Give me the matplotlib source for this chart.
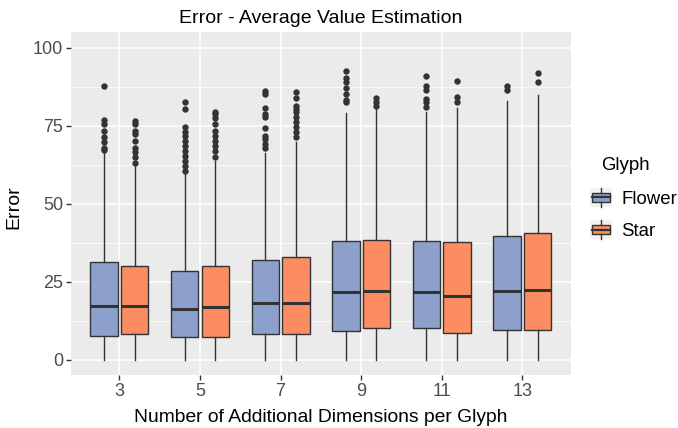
import matplotlib.pyplot as plt
from matplotlib.patches import Patch, Rectangle
from matplotlib.lines import Line2D
from matplotlib.legend_handler import HandlerBase
import numpy as np

plt.rcParams['font.family'] = ['Liberation Sans', 'DejaVu Sans']

dims = ['3', '5', '7', '9', '11', '13']
glyphs = ['Flower', 'Star']
colors = ['#8DA0CB', '#FC8D62']

# box stats
flower_q1 = [7.7, 7.4, 8.3, 9.3, 10.2, 9.5]
flower_med = [17.1, 16.4, 18.1, 21.6, 21.8, 22.1]
flower_q3 = [31.2, 28.5, 32.0, 38.0, 38.0, 39.6]
flower_lo = [0, 0, 0, 0, 0, 0]
flower_hi = [66.8, 59.7, 66.3, 79.1, 79.4, 83.0]
flower_out = [
    [87.8, 76.8, 75.7, 73.4, 71.3, 69.7, 68.0, 67.2],
    [82.8, 80.4, 74.5, 72.9, 71.8, 70.2, 68.6, 67.0, 65.4, 63.8, 62.2, 60.6],
    [86.2, 85.2, 80.7, 78.7, 77.7, 74.3, 71.8, 70.7, 69.1, 68.0],
    [92.5, 90.2, 89.2, 87.1, 85.2, 83.3, 82.5],
    [90.9, 87.8, 86.4, 83.5, 82.5, 80.9],
    [87.8, 86.6],
]

star_q1 = [8.3, 7.4, 8.1, 10.3, 8.6, 9.5]
star_med = [17.1, 16.8, 18.1, 21.9, 20.5, 22.5]
star_q3 = [30.0, 29.9, 33.1, 38.5, 37.9, 40.7]
star_lo = [0, 0, 0, 0, 0, 0]
star_hi = [62.2, 63.6, 69.9, 80.6, 80.7, 84.9]
star_out = [
    [76.6, 75.5, 73.4, 72.3, 70.2, 68.0, 66.5, 64.9, 63.2],
    [79.6, 78.7, 77.4, 75.7, 73.4, 71.8, 70.2, 68.6, 67.0, 65.1],
    [85.9, 83.8, 81.4, 80.4, 79.3, 77.7, 76.1, 74.5, 72.9, 71.5],
    [83.8, 82.8, 81.4],
    [89.3, 84.1, 82.8],
    [91.8, 89.1],
]

data = {
    'Flower': (flower_q1, flower_med, flower_q3, flower_lo, flower_hi, flower_out),
    'Star': (star_q1, star_med, star_q3, star_lo, star_hi, star_out),
}

fig = plt.figure(figsize=(6.78, 4.28), dpi=100)
ax = fig.add_axes([0.1047, 0.1231, 0.7371, 0.8014])
ax.set_facecolor('#EBEBEB')
for s in ax.spines.values():
    s.set_visible(False)

x = np.arange(len(dims))
offsets = [-0.19, 0.19]
for g, name in enumerate(glyphs):
    q1, med, q3, lo, hi, out = data[name]
    stats = []
    for i in range(len(dims)):
        stats.append(dict(q1=q1[i], med=med[i], q3=q3[i], whislo=lo[i],
                          whishi=hi[i], fliers=out[i]))
    ax.bxp(stats, positions=x + offsets[g], widths=0.34, patch_artist=True,
           showcaps=False, manage_ticks=False,
           boxprops=dict(facecolor=colors[g], edgecolor='#333333', lw=1.0),
           medianprops=dict(color='#333333', lw=2.2, solid_capstyle='butt'),
           whiskerprops=dict(color='#333333', lw=1.0),
           flierprops=dict(marker='o', markerfacecolor='#333333',
                           markeredgecolor='none', markersize=4.6))

ax.set_xlim(-0.6, 5.6)
ax.set_ylim(-5, 105)
ax.set_xticks(x)
ax.set_xticklabels(dims)
ax.set_yticks([0, 25, 50, 75, 100])
ax.set_yticks([12.5, 37.5, 62.5, 87.5], minor=True)
ax.set_axisbelow(True)
ax.grid(which='major', color='white', lw=1.1)
ax.grid(which='minor', axis='y', color='white', lw=0.55)
ax.tick_params(which='major', color='#333333', length=3.5, width=1.0,
               labelcolor='#4D4D4D', labelsize=13, pad=2)
ax.tick_params(which='minor', length=0)

fig.text(0.4732, 1 - 23 / 428, 'Error - Average Value Estimation', ha='center',
         va='baseline', fontsize=14)
fig.text(0.4732, 1 - 421.7 / 428, 'Number of Additional Dimensions per Glyph',
         ha='center', va='baseline', fontsize=13.9)
fig.text(13.5 / 678, 1 - 206.8 / 428, 'Error', ha='center', va='center',
         rotation=90, fontsize=14)


class BoxKey(HandlerBase):
    def create_artists(self, legend, orig_handle, xdescent, ydescent,
                       width, height, fontsize, trans):
        x0, y0 = -xdescent, -ydescent
        bg = Rectangle((x0, y0), width, height, facecolor='#F2F2F2',
                       edgecolor='none', transform=trans)
        bx = Rectangle((x0 + 0.1 * width, y0 + 0.26 * height), 0.8 * width,
                       0.48 * height, facecolor=orig_handle.get_facecolor(),
                       edgecolor='#333333', lw=1.0, transform=trans)
        xc = x0 + width / 2
        w1 = Line2D([xc, xc], [y0, y0 + 0.26 * height], color='#333333',
                    lw=1.0, transform=trans)
        w2 = Line2D([xc, xc], [y0 + 0.74 * height, y0 + height],
                    color='#333333', lw=1.0, transform=trans)
        md = Line2D([x0 + 0.1 * width, x0 + 0.9 * width],
                    [y0 + height / 2] * 2, color='#333333', lw=1.6,
                    transform=trans)
        return [bg, bx, w1, w2, md]


handles = [Patch(facecolor=c) for c in colors]
leg = fig.legend(handles, glyphs, handler_map={Patch: BoxKey()},
                 loc='upper left', bbox_to_anchor=(590 / 678, 1 - 188 / 428),
                 frameon=False, fontsize=13.4, borderpad=0, borderaxespad=0,
                 handlelength=1.19, handleheight=1.19, labelspacing=0.68,
                 handletextpad=0.48)
fig.text(600.7 / 678, 1 - 165 / 428, 'Glyph', ha='left', va='center',
         fontsize=13.4)

fig.savefig('out.png', dpi=100)
